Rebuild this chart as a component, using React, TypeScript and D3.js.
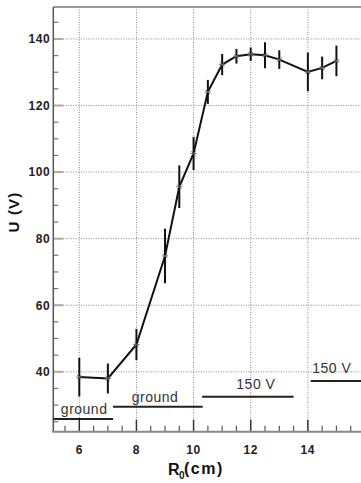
import React from "react";
import * as d3 from "d3";

const rValues = [6, 7, 8, 9, 9.5, 10, 10.5, 11, 11.5, 12, 12.5, 13, 14, 14.5, 15];
const uValues = [38.4, 38.0, 48.2, 74.8, 95.6, 105.6, 124.1, 132.3, 134.8, 135.4, 135.1, 133.8, 130.1, 131.3, 133.4];
const uErrors = [5.8, 4.5, 4.7, 8.2, 6.4, 5.0, 3.6, 3.2, 2.2, 2.0, 3.9, 2.8, 5.8, 3.4, 4.6];

const xTickLabels = [6, 8, 10, 12, 14];
const yTickLabels = [40, 60, 80, 100, 120, 140];

const annoLabels = ["ground", "ground", "150 V", "150 V"];
const annoX0 = [5.09, 7.18, 10.3, 14.1];
const annoX1 = [7.18, 10.32, 13.5, 16];
const annoLineY = [25.8, 29.5, 32.5, 37.2];
const annoTextX = [6.17, 8.65, 12.18, 14.84];
const annoTextY = [27.3, 30.9, 34.7, 39.5];

export default function App() {
  const W = 361, H = 483;
  const left = 53.3, right = 365, top = 7, bottom = 431.7;
  const x = d3.scaleLinear().domain([5.09, 16]).range([left, right]);
  const y = d3.scaleLinear().domain([22, 149.6]).range([bottom, top]);

  const pts = rValues.map((r, i) => ({ r, u: uValues[i], e: uErrors[i] }));
  const line = d3.line<any>().x(d => x(d.r)).y(d => y(d.u));

  const xMinor = d3.range(5.5, 16.01, 0.5).filter(v => Math.abs(v / 2 - Math.round(v / 2)) > 1e-6);
  const yMinor = d3.range(25, 149, 5).filter(v => v % 20 !== 0);

  const font = "'Liberation Sans', Arial, sans-serif";

  return (
    <svg width={W} height={H} style={{ position: "absolute", left: 0, top: 0, background: "#fff" }} fontFamily={font}>
      <rect x={0} y={0} width={W} height={H} fill="#fff" />
      {/* grid */}
      {xTickLabels.map(v => (
        <line key={"gx" + v} x1={x(v)} x2={x(v)} y1={top} y2={bottom} stroke="#8a8a8a" strokeWidth={1} strokeDasharray="1,1.5" />
      ))}
      {yTickLabels.map(v => (
        <line key={"gy" + v} x1={left} x2={W} y1={y(v)} y2={y(v)} stroke="#8a8a8a" strokeWidth={1} strokeDasharray="1,1.5" />
      ))}
      {/* y ticks */}
      {yMinor.map(v => (
        <line key={"ym" + v} x1={left} x2={left + 5} y1={y(v)} y2={y(v)} stroke="#777" strokeWidth={1.2} />
      ))}
      {yTickLabels.map(v => (
        <line key={"yM" + v} x1={left} x2={left + 10} y1={y(v)} y2={y(v)} stroke="#aaa" strokeWidth={2} />
      ))}
      {/* x ticks */}
      {xMinor.map(v => (
        <line key={"xm" + v} x1={x(v)} x2={x(v)} y1={bottom} y2={bottom - 6} stroke="#555" strokeWidth={1.2} />
      ))}
      {xTickLabels.map(v => (
        <line key={"xM" + v} x1={x(v)} x2={x(v)} y1={bottom} y2={bottom - 12} stroke="#333" strokeWidth={1.5} />
      ))}
      {/* frame */}
      <line x1={left} x2={W} y1={top} y2={top} stroke="#999" strokeWidth={2} />
      <line x1={left} x2={left} y1={top} y2={bottom} stroke="#555" strokeWidth={1.5} />
      <line x1={left - 1} x2={W} y1={bottom} y2={bottom} stroke="#888" strokeWidth={2} />
      {/* tick labels */}
      {yTickLabels.map(v => (
        <text key={"yl" + v} x={left - 3} y={y(v)} dy="0.36em" textAnchor="end" fontSize={12} fontWeight="bold" fill="#222" letterSpacing={0.6}>{v}</text>
      ))}
      {xTickLabels.map(v => (
        <text key={"xl" + v} x={x(v)} y={454} textAnchor="middle" fontSize={12} fontWeight="bold" fill="#222" letterSpacing={0.6}>{v}</text>
      ))}
      {/* axis titles */}
      <text transform="translate(19,212) rotate(-90)" textAnchor="middle" fontSize={15} fontWeight="bold" fill="#111" letterSpacing={1.2}>U (V)</text>
      <text x={168} y={475} fontSize={16} fontWeight="bold" fill="#111">R</text>
      <text x={179} y={479} fontSize={10} fontWeight="bold" fill="#111">0</text>
      <text x={184} y={474} fontSize={16} fontWeight="bold" fill="#111" letterSpacing={1.5}>(cm)</text>
      {/* annotations */}
      {annoLabels.map((t, i) => (
        <g key={"a" + i}>
          <line x1={x(annoX0[i])} x2={x(annoX1[i])} y1={y(annoLineY[i])} y2={y(annoLineY[i])} stroke="#222" strokeWidth={2} />
          <text x={x(annoTextX[i])} y={y(annoTextY[i])} textAnchor="middle" fontSize={14} fill="#333" letterSpacing={0.5}>{t}</text>
        </g>
      ))}
      {/* error bars */}
      {pts.map((p, i) => (
        <line key={"e" + i} x1={x(p.r)} x2={x(p.r)} y1={y(p.u + p.e)} y2={y(p.u - p.e)} stroke="#111" strokeWidth={2} />
      ))}
      {/* line */}
      <path d={line(pts) || ""} fill="none" stroke="#111" strokeWidth={2} />
      {/* markers */}
      {pts.map((p, i) => {
        const cx = x(p.r), cy = y(p.u), s = 3;
        return (
          <g key={"m" + i} stroke="#666" strokeWidth={1}>
            <line x1={cx - s} x2={cx + s} y1={cy} y2={cy} />
            <line x1={cx - s * 0.7} x2={cx + s * 0.7} y1={cy - s * 0.7} y2={cy + s * 0.7} />
            <line x1={cx - s * 0.7} x2={cx + s * 0.7} y1={cy + s * 0.7} y2={cy - s * 0.7} />
          </g>
        );
      })}
    </svg>
  );
}
